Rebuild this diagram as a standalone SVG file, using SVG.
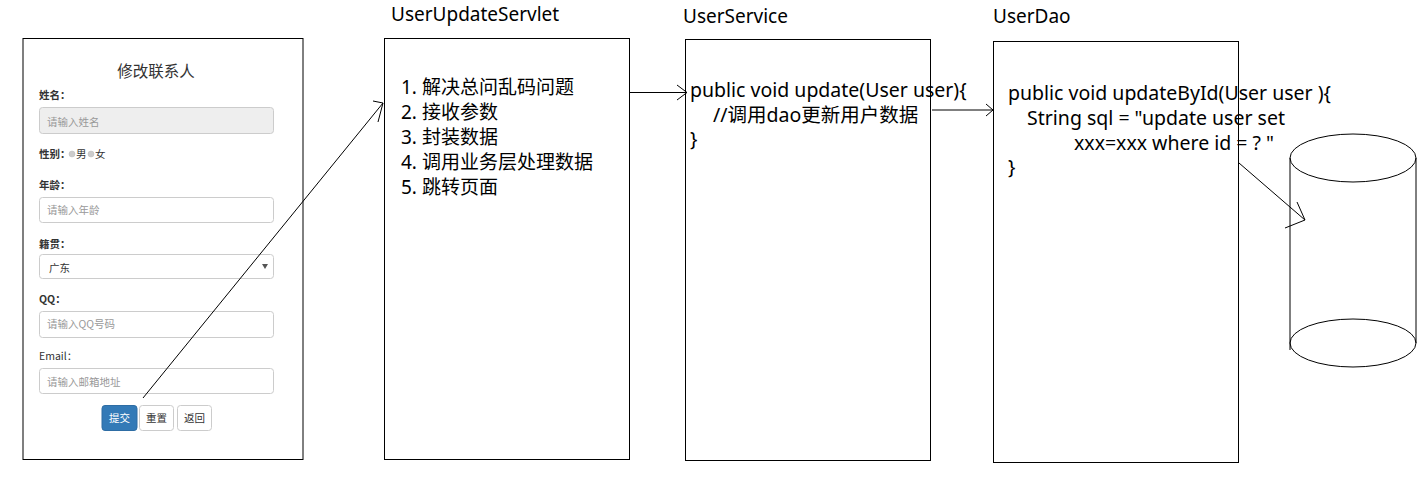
<svg xmlns="http://www.w3.org/2000/svg" width="1422" height="480" viewBox="0 0 1422 480">
<style>
.box{fill:#fff;stroke:#000;stroke-width:1}
.title{font-family:"Noto Sans","Noto Sans CJK SC",sans-serif;font-size:19px;fill:#000}
.code{font-family:"Noto Sans","Noto Sans CJK SC",sans-serif;font-size:19.5px;fill:#000}
.list{font-family:"Noto Sans","Noto Sans CJK SC",sans-serif;font-size:19px;fill:#000}
.lbl{font-family:"Noto Sans CJK SC","Noto Sans",sans-serif;font-size:10.5px;font-weight:bold;fill:#333}
.lbln{font-family:"Noto Sans CJK SC","Noto Sans",sans-serif;font-size:10.5px;fill:#333}
.ph{font-family:"Noto Sans CJK SC","Noto Sans",sans-serif;font-size:10.5px;fill:#999}
.inp{fill:#fff;stroke:#ccc;stroke-width:1}
.btn{fill:#fff;stroke:#ccc;stroke-width:1}
.btxt{font-family:"Noto Sans CJK SC","Noto Sans",sans-serif;font-size:10.5px;fill:#333;text-anchor:middle}
.conn{fill:none;stroke:#000;stroke-width:1}
</style>
<rect width="1422" height="480" fill="#fff"/>

<g id="form">
<rect class="box" x="23" y="38.5" width="280" height="421"/>
<text x="156" y="77" text-anchor="middle" style="font-family:'Noto Sans CJK SC',sans-serif;font-size:15.5px;fill:#333">修改联系人</text>
<text class="lbl" x="39" y="99">姓名：</text>
<rect x="39.5" y="107.5" width="234" height="26" rx="3" fill="#eee" stroke="#ccc"/>
<text class="ph" x="47" y="126">请输入姓名</text>
<text class="lbl" x="39" y="158">性别：</text>
<circle cx="72" cy="154" r="3" fill="#ccc" stroke="#bbb" stroke-width="0.5"/>
<text class="lbln" x="76" y="158">男</text>
<circle cx="91" cy="154" r="3" fill="#ccc" stroke="#bbb" stroke-width="0.5"/>
<text class="lbln" x="95" y="158">女</text>
<text class="lbl" x="39" y="189">年龄：</text>
<rect class="inp" x="39.5" y="197.5" width="234" height="25" rx="3"/>
<text class="ph" x="47" y="214">请输入年龄</text>
<text class="lbl" x="39" y="248">籍贯：</text>
<rect class="inp" x="39.5" y="254.5" width="234" height="24" rx="3"/>
<text class="lbln" x="49" y="272">广东</text>
<path d="M262,264 L268,264 L265,269 Z" fill="#555"/>
<text class="lbl" x="39" y="303">QQ：</text>
<rect class="inp" x="39.5" y="311.5" width="234" height="26" rx="3"/>
<text class="ph" x="47" y="328">请输入QQ号码</text>
<text class="lbln" x="39" y="360">Email：</text>
<rect class="inp" x="39.5" y="368.5" width="234" height="25" rx="3"/>
<text class="ph" x="47" y="386">请输入邮箱地址</text>
<rect x="102" y="405.5" width="35" height="25" rx="3" fill="#337ab7" stroke="#2e6da4"/>
<text class="btxt" x="119.5" y="422" style="fill:#fff">提交</text>
<rect class="btn" x="139.5" y="405.5" width="34" height="25" rx="3"/>
<text class="btxt" x="156.5" y="422">重置</text>
<rect class="btn" x="177.5" y="405.5" width="34" height="25" rx="3"/>
<text class="btxt" x="194.5" y="422">返回</text>
</g>

<g id="servlet">
<text class="title" x="391" y="21">UserUpdateServlet</text>
<rect class="box" x="384.5" y="38.5" width="245" height="421"/>
<text class="list" x="401" y="94">1. 解决总问乱码问题</text>
<text class="list" x="401" y="119">2. 接收参数</text>
<text class="list" x="401" y="144">3. 封装数据</text>
<text class="list" x="401" y="169">4. 调用业务层处理数据</text>
<text class="list" x="401" y="194">5. 跳转页面</text>
</g>

<g id="service">
<text class="title" x="683" y="23">UserService</text>
<rect class="box" x="685.5" y="39.5" width="245" height="421"/>
<text class="code" x="690" y="97">public void update(User user){</text>
<text class="code" x="713" y="122">//调用dao更新用户数据</text>
<text class="code" x="690" y="146">}</text>
</g>

<g id="dao">
<text class="title" x="993" y="23">UserDao</text>
<rect class="box" x="993.5" y="41.5" width="245" height="421"/>
<text class="code" x="1008" y="100">public void updateById(User user ){</text>
<text class="code" x="1027" y="125">String sql = "update user set</text>
<text class="code" x="1074" y="150">xxx=xxx where id = ? "</text>
<text class="code" x="1008" y="174">}</text>
</g>

<g id="database">
<path class="conn" d="M1290,158 L1290,350 M1416,158 L1416,343"/>
<ellipse class="conn" cx="1353" cy="158" rx="63" ry="24"/>
<ellipse class="conn" cx="1353" cy="343" rx="63" ry="24"/>
</g>

<g id="connectors">
<path class="conn" d="M143,398 L383,103"/>
<path class="conn" d="M373,101 L383,103 L378,122"/>
<path class="conn" d="M629,92.5 L687,92.5"/>
<path class="conn" d="M677,85 L687,92.5 L677,100"/>
<path class="conn" d="M932,110 L993,110"/>
<path class="conn" d="M986,104 L993,110 L986,116"/>
<path class="conn" d="M1239,163 L1305,220"/>
<path class="conn" d="M1297,202 L1305,220 L1285,228"/>
</g>
</svg>
